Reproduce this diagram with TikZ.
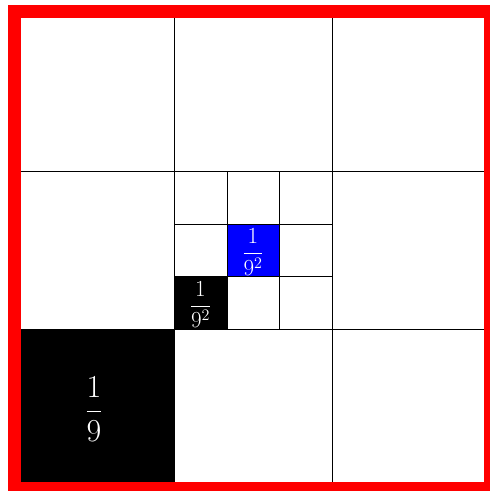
\RequirePackage{fix-cm}
\documentclass[tikz,border=0pt]{standalone}
\begin{document}
\begin{tikzpicture}[x=1pt,y=-1pt,
  gridline/.style={draw=black,line width=0.8pt},
  frame/.style={draw=red,line width=13pt},
  bigfrac/.style={text=white,inner sep=0pt,font=\fontsize{32}{38}\selectfont},
  smallfrac/.style={text=white,inner sep=0pt,font=\fontsize{23}{28}\selectfont}]
\useasboundingbox (0,0) rectangle (490,491);
% fills
\fill[black] (14.5,329) rectangle (174,488.5);
\fill[blue] (227,224) rectangle (279,276);
\fill[black] (174,276) rectangle (227,329);
% main grid
\draw[gridline] (174,11.5) -- (174,488.5);
\draw[gridline] (332,11.5) -- (332,488.5);
\draw[gridline] (14.5,171) -- (490.5,171);
\draw[gridline] (14.5,329) -- (490.5,329);
% sub grid in centre cell
\draw[gridline] (227,171) -- (227,329);
\draw[gridline] (279,171) -- (279,329);
\draw[gridline] (174,224) -- (332,224);
\draw[gridline] (174,276) -- (332,276);
% red frame
\draw[frame] (14.5,11.5) rectangle (490.5,488.5);
% labels
\node[bigfrac] (big) at (94,409) {$\displaystyle\frac{1}{9}$};
\node[smallfrac] (blue) at (253,252) {$\displaystyle\frac{1}{9^2}$};
\node[smallfrac] (small) at (200.5,304.5) {$\displaystyle\frac{1}{9^2}$};
\end{tikzpicture}
\end{document}
